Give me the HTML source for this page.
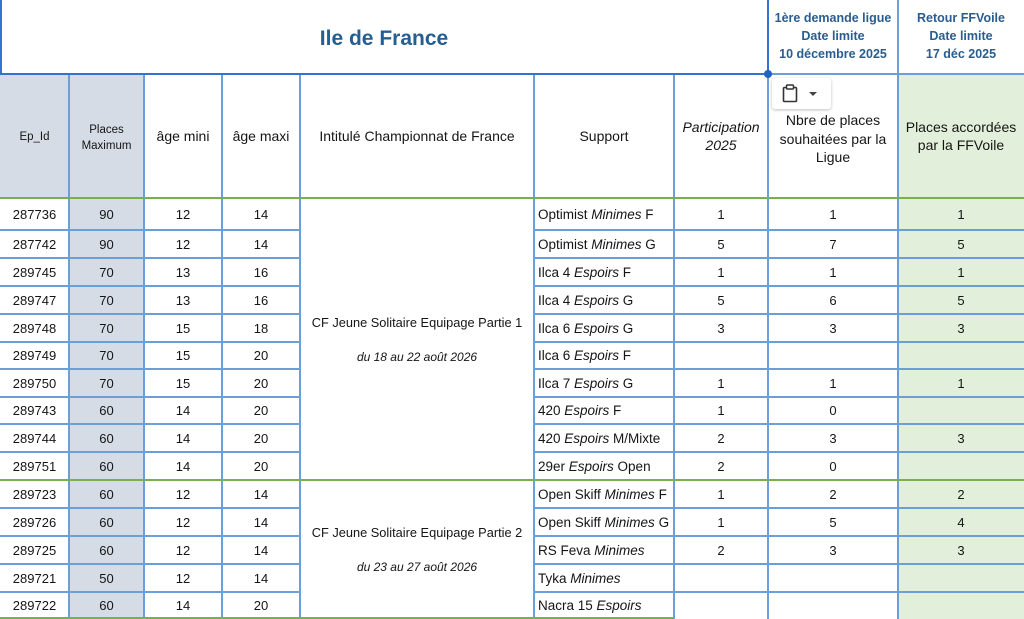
<!DOCTYPE html>
<html><head><meta charset="utf-8">
<style>
*{margin:0;padding:0;box-sizing:border-box}
html,body{width:1024px;height:619px;overflow:hidden;background:#fff}
body{position:relative;font-family:"Liberation Sans",sans-serif;color:#151515}
.a{position:absolute}
.bg1{background:#d6dce5}
.bg2{background:#e2efda}
.v{position:absolute;width:2px;background:#6a9fd9}
.h{position:absolute;height:2px;background:#6a9fd9}
.g{position:absolute;height:2px;background:#79b04f}
.r{position:absolute;left:0;width:1024px}
.c{position:absolute;top:0;height:100%;display:flex;align-items:center;justify-content:center;font-size:13px;white-space:nowrap}
.c0{left:0;width:69px}.c1{left:69px;width:75px}.c2{left:144px;width:78px}.c3{left:222px;width:78px}
.c5{left:534px;width:140px;justify-content:flex-start;padding-left:4px;font-size:13.5px}
.c6{left:674px;width:94px}.c7{left:768px;width:130px}.c8{left:898px;width:126px}
.hd{position:absolute;top:74px;height:124px;display:flex;align-items:center;justify-content:center;text-align:center;font-size:14px;line-height:18.5px}
.blue{position:absolute;text-align:center;color:#2a5d8f;font-weight:bold;font-size:12.5px;line-height:18px}
.t{position:absolute;left:300px;width:234px;text-align:center;white-space:nowrap}
</style></head><body>
<!-- backgrounds -->
<div class="a bg1" style="left:0;top:74px;width:69px;height:124px"></div>
<div class="a bg1" style="left:69px;top:74px;width:75px;height:545px"></div>
<div class="a bg2" style="left:898px;top:74px;width:126px;height:545px"></div>

<!-- top header -->
<div class="a" style="left:0;top:0;width:768px;height:74px;display:flex;align-items:center;justify-content:center;font-size:21px;font-weight:bold;color:#255e91;padding-top:3px">Ile de France</div>
<div class="blue" style="left:768px;top:9px;width:130px">1ère demande ligue<br>Date limite<br>10 décembre 2025</div>
<div class="blue" style="left:898px;top:9px;width:126px">Retour FFVoile<br>Date limite<br>17 déc 2025</div>

<!-- header row -->
<div class="hd" style="left:0;width:69px;font-size:11.5px;padding-top:3px">Ep_Id</div>
<div class="hd" style="left:69px;width:75px;font-size:11.5px;line-height:16px;padding-top:3px">Places<br>Maximum</div>
<div class="hd" style="left:144px;width:78px">âge mini</div>
<div class="hd" style="left:222px;width:78px">âge maxi</div>
<div class="hd" style="left:300px;width:234px">Intitulé Championnat de France</div>
<div class="hd" style="left:534px;width:140px">Support</div>
<div class="hd" style="left:674px;width:94px;font-style:italic">Participation<br>2025</div>
<div class="hd" style="left:768px;width:130px;padding-top:6px">Nbre de places<br>souhaitées par la<br>Ligue</div>
<div class="hd" style="left:898px;width:126px">Places accordées<br>par la FFVoile</div>

<!-- merged intitule -->
<div class="t" style="top:314px;font-size:12.8px;line-height:18px">CF Jeune Solitaire Equipage Partie 1</div>
<div class="t" style="top:349px;font-size:12px;line-height:16px;font-style:italic">du 18 au 22 août 2026</div>
<div class="t" style="top:524px;font-size:12.8px;line-height:18px">CF Jeune Solitaire Equipage Partie 2</div>
<div class="t" style="top:559px;font-size:12px;line-height:16px;font-style:italic">du 23 au 27 août 2026</div>

<!-- rows -->
<div class="r" style="top:198px;height:32px"><div class="c c0">287736</div><div class="c c1">90</div><div class="c c2">12</div><div class="c c3">14</div><div class="c c5">Optimist&nbsp;<i>Minimes</i>&nbsp;F</div><div class="c c6">1</div><div class="c c7">1</div><div class="c c8">1</div></div>
<div class="r" style="top:230px;height:28px"><div class="c c0">287742</div><div class="c c1">90</div><div class="c c2">12</div><div class="c c3">14</div><div class="c c5">Optimist&nbsp;<i>Minimes</i>&nbsp;G</div><div class="c c6">5</div><div class="c c7">7</div><div class="c c8">5</div></div>
<div class="r" style="top:258px;height:28px"><div class="c c0">289745</div><div class="c c1">70</div><div class="c c2">13</div><div class="c c3">16</div><div class="c c5">Ilca 4&nbsp;<i>Espoirs</i>&nbsp;F</div><div class="c c6">1</div><div class="c c7">1</div><div class="c c8">1</div></div>
<div class="r" style="top:286px;height:28px"><div class="c c0">289747</div><div class="c c1">70</div><div class="c c2">13</div><div class="c c3">16</div><div class="c c5">Ilca 4&nbsp;<i>Espoirs</i>&nbsp;G</div><div class="c c6">5</div><div class="c c7">6</div><div class="c c8">5</div></div>
<div class="r" style="top:314px;height:28px"><div class="c c0">289748</div><div class="c c1">70</div><div class="c c2">15</div><div class="c c3">18</div><div class="c c5">Ilca 6&nbsp;<i>Espoirs</i>&nbsp;G</div><div class="c c6">3</div><div class="c c7">3</div><div class="c c8">3</div></div>
<div class="r" style="top:342px;height:27px"><div class="c c0">289749</div><div class="c c1">70</div><div class="c c2">15</div><div class="c c3">20</div><div class="c c5">Ilca 6&nbsp;<i>Espoirs</i>&nbsp;F</div></div>
<div class="r" style="top:369px;height:28px"><div class="c c0">289750</div><div class="c c1">70</div><div class="c c2">15</div><div class="c c3">20</div><div class="c c5">Ilca 7&nbsp;<i>Espoirs</i>&nbsp;G</div><div class="c c6">1</div><div class="c c7">1</div><div class="c c8">1</div></div>
<div class="r" style="top:397px;height:27px"><div class="c c0">289743</div><div class="c c1">60</div><div class="c c2">14</div><div class="c c3">20</div><div class="c c5">420&nbsp;<i>Espoirs</i>&nbsp;F</div><div class="c c6">1</div><div class="c c7">0</div></div>
<div class="r" style="top:424px;height:28px"><div class="c c0">289744</div><div class="c c1">60</div><div class="c c2">14</div><div class="c c3">20</div><div class="c c5">420&nbsp;<i>Espoirs</i>&nbsp;M/Mixte</div><div class="c c6">2</div><div class="c c7">3</div><div class="c c8">3</div></div>
<div class="r" style="top:452px;height:28px"><div class="c c0">289751</div><div class="c c1">60</div><div class="c c2">14</div><div class="c c3">20</div><div class="c c5">29er&nbsp;<i>Espoirs</i>&nbsp;Open</div><div class="c c6">2</div><div class="c c7">0</div></div>
<div class="r" style="top:480px;height:28px"><div class="c c0">289723</div><div class="c c1">60</div><div class="c c2">12</div><div class="c c3">14</div><div class="c c5">Open Skiff&nbsp;<i>Minimes</i>&nbsp;F</div><div class="c c6">1</div><div class="c c7">2</div><div class="c c8">2</div></div>
<div class="r" style="top:508px;height:28px"><div class="c c0">289726</div><div class="c c1">60</div><div class="c c2">12</div><div class="c c3">14</div><div class="c c5">Open Skiff&nbsp;<i>Minimes</i>&nbsp;G</div><div class="c c6">1</div><div class="c c7">5</div><div class="c c8">4</div></div>
<div class="r" style="top:536px;height:28px"><div class="c c0">289725</div><div class="c c1">60</div><div class="c c2">12</div><div class="c c3">14</div><div class="c c5">RS Feva&nbsp;<i>Minimes</i></div><div class="c c6">2</div><div class="c c7">3</div><div class="c c8">3</div></div>
<div class="r" style="top:564px;height:28px"><div class="c c0">289721</div><div class="c c1">50</div><div class="c c2">12</div><div class="c c3">14</div><div class="c c5">Tyka&nbsp;<i>Minimes</i></div></div>
<div class="r" style="top:592px;height:27px"><div class="c c0">289722</div><div class="c c1">60</div><div class="c c2">14</div><div class="c c3">20</div><div class="c c5">Nacra 15&nbsp;<i>Espoirs</i></div></div>

<!-- vertical lines -->
<div class="v" style="left:68px;top:74px;height:545px"></div>
<div class="v" style="left:143px;top:74px;height:545px"></div>
<div class="v" style="left:221px;top:74px;height:545px"></div>
<div class="v" style="left:299px;top:74px;height:545px"></div>
<div class="v" style="left:533px;top:74px;height:545px"></div>
<div class="v" style="left:673px;top:74px;height:545px"></div>
<div class="v" style="left:767px;top:0;height:619px"></div>
<div class="v" style="left:897px;top:0;height:619px"></div>

<!-- horizontal row lines -->
<div class="h" style="left:0;width:300px;top:229px"></div><div class="h" style="left:534px;width:490px;top:229px"></div>
<div class="h" style="left:0;width:300px;top:257px"></div><div class="h" style="left:534px;width:490px;top:257px"></div>
<div class="h" style="left:0;width:300px;top:285px"></div><div class="h" style="left:534px;width:490px;top:285px"></div>
<div class="h" style="left:0;width:300px;top:313px"></div><div class="h" style="left:534px;width:490px;top:313px"></div>
<div class="h" style="left:0;width:300px;top:341px"></div><div class="h" style="left:534px;width:490px;top:341px"></div>
<div class="h" style="left:0;width:300px;top:368px"></div><div class="h" style="left:534px;width:490px;top:368px"></div>
<div class="h" style="left:0;width:300px;top:396px"></div><div class="h" style="left:534px;width:490px;top:396px"></div>
<div class="h" style="left:0;width:300px;top:423px"></div><div class="h" style="left:534px;width:490px;top:423px"></div>
<div class="h" style="left:0;width:300px;top:451px"></div><div class="h" style="left:534px;width:490px;top:451px"></div>
<div class="h" style="left:0;width:300px;top:507px"></div><div class="h" style="left:534px;width:490px;top:507px"></div>
<div class="h" style="left:0;width:300px;top:535px"></div><div class="h" style="left:534px;width:490px;top:535px"></div>
<div class="h" style="left:0;width:300px;top:563px"></div><div class="h" style="left:534px;width:490px;top:563px"></div>
<div class="h" style="left:0;width:300px;top:591px"></div><div class="h" style="left:534px;width:490px;top:591px"></div>

<!-- green lines -->
<div class="g" style="left:0;width:1024px;top:197px"></div>
<div class="g" style="left:0;width:1024px;top:479px"></div>
<div class="g" style="left:0;width:674px;top:617px"></div>

<!-- header separator & selection -->
<div class="h" style="left:768px;width:256px;top:73px"></div>
<div class="a" style="left:0;top:73px;width:769px;height:2px;background:#2f74cf"></div>
<div class="a" style="left:0;top:0;width:2px;height:75px;background:#2f74cf"></div>
<div class="a" style="left:767px;top:0;width:2px;height:75px;background:#2f74cf"></div>
<div class="a" style="left:764px;top:70px;width:8px;height:8px;border-radius:50%;background:#1f63c4"></div>

<!-- paste button -->
<div class="a" style="left:772px;top:78px;width:59px;height:31px;background:#fff;border-radius:3px;box-shadow:0 1px 3px rgba(0,0,0,0.25)">
<svg width="59" height="31" viewBox="0 0 59 31" style="position:absolute;left:0;top:0">
<rect x="11.5" y="9.5" width="13" height="14" fill="none" stroke="#333" stroke-width="1.6" rx="1"/>
<rect x="14.5" y="7" width="7" height="4" fill="#fff" stroke="#333" stroke-width="1.5" rx="1"/>
<path d="M37 14 L45 14 L41 18 Z" fill="#444"/>
</svg>
</div>
</body></html>
